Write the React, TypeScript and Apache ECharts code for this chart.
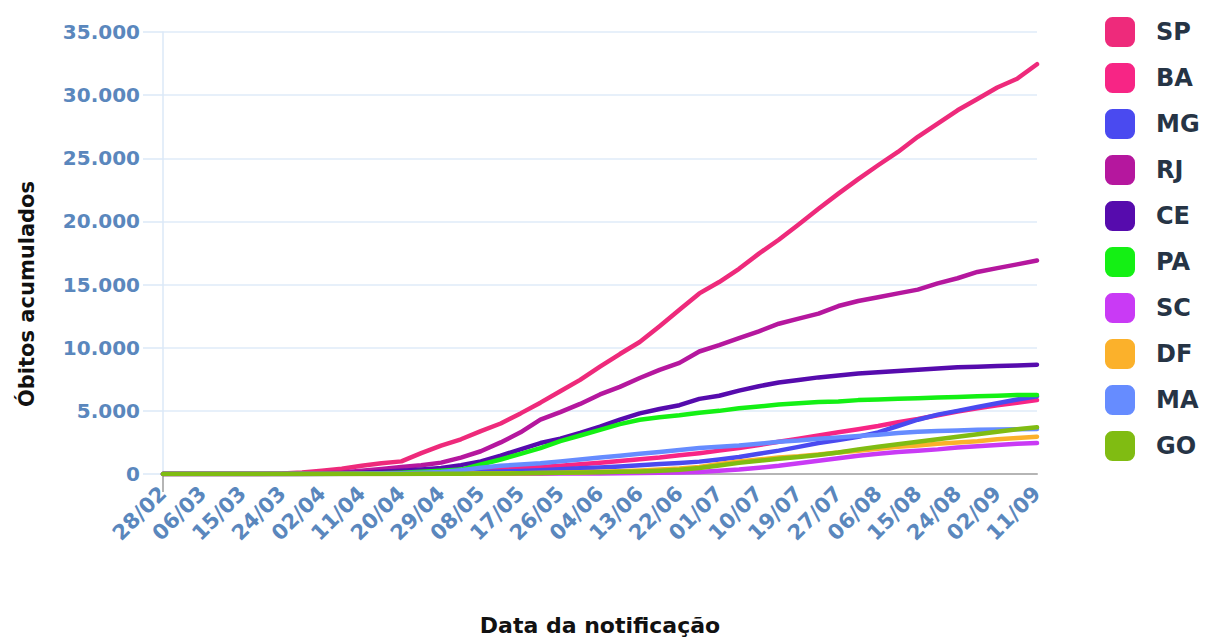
import React, { useEffect, useRef } from "react";
import * as echarts from "echarts";

const dates = ["28/02","02/03","06/03","10/03","15/03","19/03","24/03","28/03","02/04","06/04","11/04","15/04","20/04","24/04","29/04","03/05","08/05","12/05","17/05","21/05","26/05","30/05","04/06","08/06","13/06","17/06","22/06","26/06","01/07","05/07","10/07","14/07","19/07","23/07","27/07","01/08","06/08","10/08","15/08","19/08","24/08","28/08","02/09","06/09","11/09"];

const SP = [0,0,0,0,0,5,40,110,250,420,650,850,1000,1650,2250,2750,3400,4000,4800,5650,6550,7450,8500,9500,10450,11700,13000,14300,15200,16250,17450,18550,19750,21000,22200,23350,24450,25500,26700,27750,28800,29700,30600,31300,32450];
const BA = [0,0,0,0,0,0,0,5,10,20,40,60,90,120,170,230,300,380,460,550,650,770,900,1030,1170,1300,1480,1650,1850,2050,2300,2550,2800,3050,3300,3550,3800,4100,4350,4650,4950,5200,5450,5650,5850];
const MG = [0,0,0,0,0,0,0,0,5,10,20,35,50,70,90,120,150,190,240,300,370,450,520,600,700,800,880,980,1150,1350,1600,1850,2150,2450,2700,2950,3300,3800,4300,4700,5000,5300,5600,5900,6150];
const RJ = [0,0,0,0,0,0,5,20,60,120,250,400,550,700,900,1300,1800,2500,3300,4300,4900,5550,6300,6900,7600,8250,8800,9700,10200,10750,11300,11900,12300,12700,13300,13700,14000,14300,14600,15100,15500,16000,16300,16600,16900];
const CE = [0,0,0,0,0,0,0,5,20,50,100,170,250,350,480,700,1000,1450,1950,2450,2800,3250,3750,4300,4800,5150,5450,5950,6200,6600,6950,7250,7450,7650,7800,7950,8050,8150,8250,8350,8450,8500,8550,8600,8650];
const PA = [0,0,0,0,0,0,0,0,5,15,30,60,100,170,250,350,750,1150,1600,2050,2600,3050,3500,3950,4300,4500,4650,4850,5000,5200,5350,5500,5600,5700,5750,5850,5900,5950,6000,6050,6100,6150,6200,6250,6250];
const SC = [0,0,0,0,0,0,0,0,0,0,0,0,5,5,10,10,15,15,20,25,30,35,45,55,70,90,120,160,250,350,500,650,850,1050,1250,1450,1600,1750,1850,1950,2100,2200,2300,2400,2450];
const DF = [0,0,0,0,0,0,0,0,0,0,0,5,10,15,20,25,35,45,60,80,100,130,170,220,280,350,430,550,800,1000,1150,1300,1400,1550,1700,1850,2000,2150,2250,2400,2500,2600,2750,2850,2950];
const MA = [0,0,0,0,0,0,0,0,0,5,15,30,50,90,160,300,500,650,750,850,1000,1150,1300,1450,1600,1750,1900,2050,2150,2250,2400,2550,2650,2800,2900,3000,3100,3250,3350,3400,3450,3500,3520,3540,3560];
const GO = [0,0,0,0,0,0,0,0,0,0,0,0,5,10,15,20,30,40,55,70,90,110,140,170,200,260,340,480,680,880,1050,1200,1350,1500,1700,1950,2150,2350,2550,2750,2950,3150,3350,3550,3700];

const seriesNames = ["SP","BA","MG","RJ","CE","PA","SC","DF","MA","GO"];
const seriesData = [SP, BA, MG, RJ, CE, PA, SC, DF, MA, GO];
const seriesColors = ["#ee2a7b","#f72585","#4a4af0","#b5179e","#560bad","#14f014","#c93af5","#fbb12b","#668cff","#80bc12"];

const FONT = '"DejaVu Sans", sans-serif';
const LABEL_COLOR = "#5a87bd";

function fmt(v: number): string {
  return String(v).replace(/\B(?=(\d{3})+(?!\d))/g, ".");
}

export default function App() {
  const ref = useRef<HTMLDivElement>(null);
  useEffect(() => {
    if (!ref.current) return;
    const chart = echarts.init(ref.current, undefined, { renderer: "svg" });
    chart.setOption({
      animation: false,
      grid: { left: 163, right: 176, top: 32, bottom: 167, containLabel: false },
      legend: {
        orient: "vertical",
        left: 1100,
        top: 12,
        itemWidth: 30,
        itemHeight: 30,
        itemGap: 16,
        icon: "roundRect",
        data: seriesNames,
        textStyle: { fontFamily: FONT, fontWeight: "bold", fontSize: 24, color: "#263445", padding: [0, 0, 0, 16] },
      },
      graphic: [
        {
          type: "text",
          x: 27,
          y: 294,
          rotation: Math.PI / 2,
          style: {
            text: "Óbitos acumulados",
            fontFamily: FONT,
            fontWeight: "bold",
            fontSize: 21,
            fill: "#111111",
            align: "center",
            verticalAlign: "middle",
          },
        },
      ],
      xAxis: {
        type: "category",
        data: dates,
        boundaryGap: false,
        axisLine: { lineStyle: { color: "#b5b5b5", width: 2 } },
        axisTick: { show: true, interval: (i: number) => i === 0, length: 18, lineStyle: { color: "#b5b5b5", width: 2 } },
        axisLabel: { interval: 1, rotate: 45, margin: 16, color: LABEL_COLOR, fontSize: 21, fontWeight: "bold", fontFamily: FONT },
        splitLine: { show: false },
        name: "Data da notificação",
        nameLocation: "middle",
        nameGap: 140,
        nameTextStyle: { fontFamily: FONT, fontWeight: "bold", fontSize: 22, color: "#111111" },
      },
      yAxis: {
        type: "value",
        min: 0,
        max: 35000,
        interval: 5000,
        axisLine: { show: true, lineStyle: { color: "#dbe8f7", width: 1.5 } },
        axisTick: { show: true, length: 20, lineStyle: { color: "#dbe8f7", width: 1.5 } },
        axisLabel: { margin: 23, formatter: (v: number) => fmt(v), color: LABEL_COLOR, fontSize: 20, fontWeight: "bold", fontFamily: FONT },
        splitLine: { lineStyle: { color: "#dfebf9", width: 1.5 } },
      },
      series: seriesNames.map((name, k) => ({
        name,
        type: "line",
        data: seriesData[k],
        symbol: "none",
        showSymbol: false,
        color: seriesColors[k],
        lineStyle: { width: 4.5, color: seriesColors[k], join: "round", cap: "round" },
        emphasis: { disabled: true },
      })),
    });
    return () => chart.dispose();
  }, []);
  return (
    <div
      ref={ref}
      style={{ position: "fixed", left: 0, top: 0, width: 1213, height: 641, background: "#ffffff" }}
    />
  );
}
